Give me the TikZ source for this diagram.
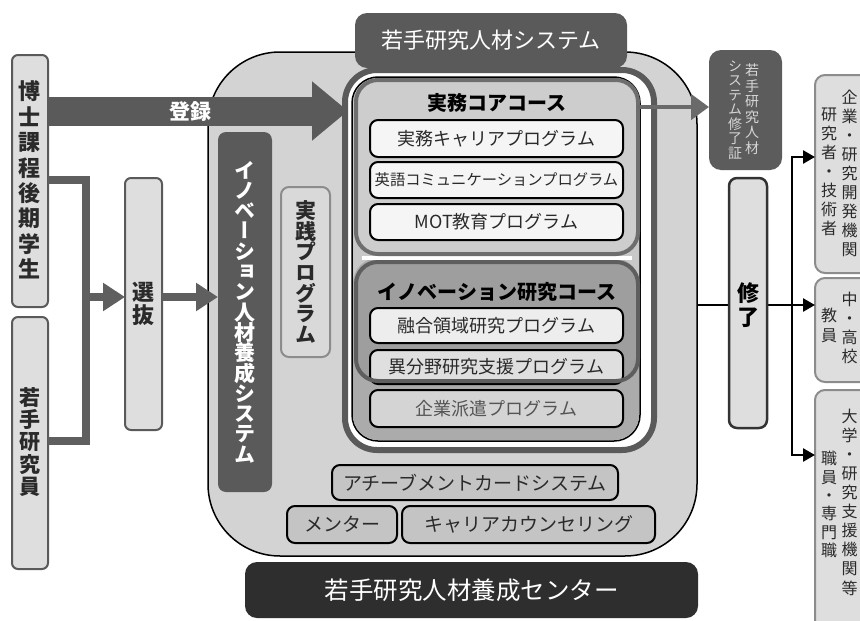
\documentclass[tikz,border=0pt]{standalone}
\usepackage{fontspec}
\setmainfont{Noto Sans CJK JP}
\newfontfamily\jpv[RawFeature=+vert]{Noto Sans CJK JP}
\newfontfamily\jpn{Noto Sans CJK JP}
\usetikzlibrary{arrows.meta}
\definecolor{darkbox}{HTML}{5A5A5A}
\definecolor{connGray}{HTML}{5F5F5F}
\definecolor{regFill}{HTML}{D3D3D3}
\definecolor{innerFill}{HTML}{C8C8C8}
\definecolor{lowFill}{HTML}{ABABAB}
\definecolor{courseBorder}{HTML}{6E6E6E}
\definecolor{courseFill}{HTML}{CDCDCD}
\definecolor{innoFill}{HTML}{9E9E9E}
\definecolor{innoBorder}{HTML}{5E5E5E}
\definecolor{subWhite}{HTML}{F5F5F5}
\definecolor{subTwo}{HTML}{EDEDED}
\definecolor{subThree}{HTML}{DFDFDF}
\definecolor{subFour}{HTML}{D4D4D4}
\definecolor{boxLight}{HTML}{DEDEDE}
\definecolor{destBorder}{HTML}{8C8C8C}
\definecolor{jissenFill}{HTML}{D9D9D9}
\definecolor{bottomFill}{HTML}{C4C4C4}
\definecolor{centerFill}{HTML}{2E2E2E}
\definecolor{certFill}{HTML}{5C5C5C}
\definecolor{textGray}{HTML}{2A2A2A}
\definecolor{certText}{HTML}{D6D6D6}
\definecolor{certGray}{HTML}{6A6A6A}
\makeatletter
\newcommand\vstk[1]{\vbox{\lineskiplimit=-1000pt\lineskip=0pt\@tfor\vs@c:=#1\do{\hbox to 1em{\hss\vs@c\hss}}}}
\makeatother
\newcommand\vf[2]{\jpv\fontsize{#1}{#2}\selectfont}
\newcommand\hf[1]{\fontsize{#1}{#1}\selectfont}
\newcommand\ndot{{\jpn ・}}
\tikzset{
  gconn/.style={draw=connGray, line width=8pt},
  garr/.style={gconn, -{Triangle[length=22pt,width=27pt]}},
  bigarr/.style={draw=darkbox, line width=29pt, -{Triangle[length=36pt,width=57pt]}},
  blkline/.style={draw=black, line width=2.6pt},
  certarr/.style={draw=certGray, line width=4.5pt, -{Triangle[length=18pt,width=25pt]}},
  leftbox/.style={draw=darkbox, line width=2pt, fill=boxLight, rounded corners=6pt},
  subbox/.style={draw=black, line width=2pt, rounded corners=8pt, minimum width=253pt},
  destbox/.style={draw=destBorder, line width=2pt, fill=boxLight, rounded corners=10pt, minimum width=85pt},
  smallbox/.style={draw=black, line width=2pt, fill=bottomFill, rounded corners=8pt},
}
\begin{document}
\begin{tikzpicture}[x=1pt,y=-1pt, every node/.style={inner sep=0pt, outer sep=0pt}]
\useasboundingbox (0,0) rectangle (860,621);
\clip (0,0) rectangle (860,621);
\fill[white] (0,0) rectangle (860,621);

% big region
\node[draw=black, line width=1.5pt, fill=regFill, rounded corners=72pt, minimum width=489pt, minimum height=504pt] (bigreg) at (452.5,304) {};

% left boxes
\node[leftbox, minimum width=36pt, minimum height=252pt] (hakase) at (30,181) {};
\node[font={\vf{22}{25.4}\bfseries}, text=textGray] (hakaset) at (30,180) {\vstk{博士課程後期学生}};
\node[leftbox, minimum width=36pt, minimum height=252pt] (wakate) at (30,443) {};
\node[font={\vf{21}{22.4}\bfseries}, text=textGray] (wakatet) at (30,442) {\vstk{若手研究員}};
\node[leftbox, minimum width=37pt, minimum height=252pt] (senbatsu) at (143.5,304) {};
\node[font={\vf{22}{23}\bfseries}, text=textGray] (senbatsut) at (143.5,304) {\vstk{選抜}};

% left connectors
\coordinate (ja) at (86,180);
\coordinate (jb) at (86,441);
\coordinate (jm) at (86,297);
\draw[gconn] (ja -| hakase.east) -- (ja) -- (jb) -- (jb -| wakate.east);
\draw[garr] (jm) -- (jm -| senbatsu.west);
\draw[garr] (jm -| senbatsu.east) -- (jm -| bigreg.west) -- ++(10,0);

% frame of young researcher system
\node[draw=darkbox, line width=6pt, fill=white, rounded corners=32pt, minimum width=309pt, minimum height=380pt] (frame) at (499.5,260) {};
\node[draw=black, line width=1.5pt, fill=innerFill, rounded corners=26pt, minimum width=288pt, minimum height=364pt] (inner) at (496,259) {};
\fill[lowFill, rounded corners=25pt] (353,258) rectangle (639,440);
\draw[white, line width=4pt] (362,258) -- (632,258);

% jitsumu core course
\node[draw=courseBorder, line width=4pt, fill=courseFill, rounded corners=22pt, minimum width=282pt, minimum height=174pt] (jcourse) at (497,167) {};
\node[font={\hf{20}\bfseries}, text=black] (jtitle) at (497,103) {実務コアコース};
\node[subbox, fill=subWhite, minimum height=37pt, font=\hf{18}, text=textGray] (s1) at (496.5,138.5) {実務キャリアプログラム};
\node[subbox, fill=subWhite, minimum height=36pt, font=\hf{15.3}, text=textGray] (s2) at (496.5,180) {英語コミュニケーションプログラム};
\node[subbox, fill=subWhite, minimum height=36pt, font=\hf{18}, text=textGray] (s3) at (496.5,222) {MOT教育プログラム};

% innovation research course
\node[fill=innoFill, rounded corners=22pt, minimum width=282pt, minimum height=119pt] (icourse) at (497,321.5) {};
\node[font={\hf{20}\bfseries}, text=black] (ititle) at (497,292) {イノベーション研究コース};
\node[subbox, fill=subTwo, minimum height=35pt, font=\hf{18}, text=textGray] (s4) at (496.5,325.5) {融合領域研究プログラム};
\node[subbox, fill=subThree, minimum height=34pt, font=\hf{18}, text=textGray] (s5) at (496.5,367) {異分野研究支援プログラム};
\draw[innoBorder, line width=4pt, rounded corners=22pt] (icourse.south west) rectangle (icourse.north east);
\node[subbox, fill=subFour, minimum height=37pt, font=\hf{18}, text=textGray!80] (s6) at (496.5,408.5) {企業派遣プログラム};

% title box
\node[fill=darkbox, rounded corners=12pt, minimum width=272pt, minimum height=55pt, font=\hf{22}, text=white] (ystitle) at (491,40.5) {若手研究人材システム};

% toroku arrow
\coordinate (tip) at (348,111);
\draw[bigarr] (tip -| hakase.east) -- (tip);
\node[font={\hf{21}\bfseries}, text=white] (toroku) at (190,112) {登録};

% innovation system and practice boxes
\node[fill=darkbox, rounded corners=8pt, minimum width=54pt, minimum height=360pt] (innosys) at (245,312) {};
\node[font={\vf{21}{20.3}\bfseries}, text=white] (innosyst) at (245,312) {\vstk{イノベーション人材養成システム}};
\node[draw=destBorder, line width=2pt, fill=jissenFill, rounded corners=8pt, minimum width=49pt, minimum height=170pt] (jissen) at (305.5,272) {};
\node[font={\vf{21}{20.7}\bfseries}, text=textGray] (jissent) at (305.5,272) {\vstk{実践プログラム}};

% bottom boxes
\node[smallbox, minimum width=286pt, minimum height=35pt, font=\hf{19}, text=textGray] (achieve) at (475,482.5) {アチーブメントカードシステム};
\node[smallbox, minimum width=110pt, minimum height=37pt, font=\hf{19}, text=textGray] (mentor) at (342,524.5) {メンター};
\node[smallbox, minimum width=253pt, minimum height=37pt, font=\hf{19}, text=textGray] (career) at (528.5,524.5) {キャリアカウンセリング};
\node[fill=centerFill, rounded corners=12pt, minimum width=453pt, minimum height=56pt, font=\hf{24.5}, text=white] (center) at (471.5,590) {若手研究人材養成センター};

% certificate
\node[fill=certFill, rounded corners=12pt, minimum width=73pt, minimum height=120pt] (cert) at (745.5,110) {};
\node[font=\vf{14}{15.5}, text=certText] (certr) at (752,109) {\vstk{若手研究人材}};
\node[font=\vf{14}{14.5}, text=certText] (certl) at (735,110) {\vstk{システム修了証}};
\draw[certarr] (jcourse.east |- 0,107) -- (cert.west |- 0,107);

% destination boxes
\node[destbox, minimum height=198pt] (dest1) at (857.5,174) {};
\node[destbox, minimum height=104pt] (dest2) at (857.5,330) {};
\node[destbox, minimum height=250pt] (dest3) at (857.5,515) {};

% completion lines
\coordinate (kt) at (792,157);
\coordinate (kb) at (792,455);
\coordinate (km) at (792,305);
\draw[blkline, -{Triangle[length=12pt,width=13pt]}] (km -| bigreg.east) -- (km -| dest2.west);
\draw[blkline, {Triangle[length=12pt,width=13pt]}-{Triangle[length=12pt,width=13pt]}] (kt -| dest1.west) -- (kt) -- (kb) -- (kb -| dest3.west);
\node[draw=black!80, line width=2.5pt, fill=boxLight, rounded corners=8pt, minimum width=38pt, minimum height=250pt] (shuryo) at (748,303) {};
\node[font={\vf{22}{24}\bfseries}, text=black] (shuryot) at (748,305) {\vstk{修了}};

% destination texts
\node[font=\vf{16}{19}, text=textGray] (d1r) at (849.5,173) {\vstk{企業\ndot 研究開発機関}};
\node[font=\vf{16}{19}, text=textGray] (d1l) at (829,171.5) {\vstk{研究者\ndot 技術者}};
\node[font=\vf{16}{19}, text=textGray] (d2r) at (849.5,328) {\vstk{中\ndot 高校}};
\node[font=\vf{16}{20}, text=textGray] (d2l) at (829,325) {\vstk{教員}};
\node[font=\vf{16}{19.1}, text=textGray] (d3r) at (849.5,502) {\vstk{大学\ndot 研究支援機関等}};
\node[font=\vf{16}{18.3}, text=textGray] (d3l) at (829,504.5) {\vstk{職員\ndot 専門職}};
\end{tikzpicture}
\end{document}
